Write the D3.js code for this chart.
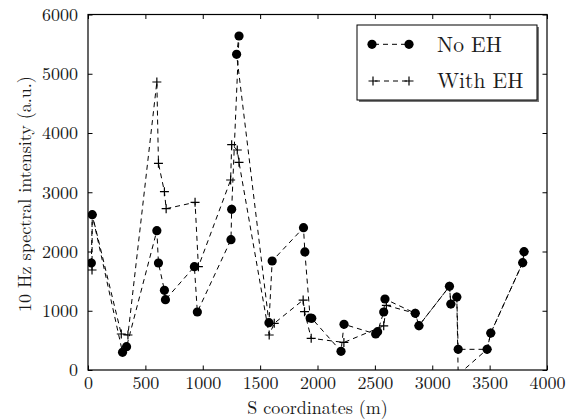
<!DOCTYPE html>
<html>
<head>
<meta charset="utf-8">
<script src="https://cdn.jsdelivr.net/npm/d3@7"></script>
<style>
  html, body { margin: 0; padding: 0; background: #fff; }
  svg { display: block; }
</style>
</head>
<body>
<svg id="chart" width="569" height="419"></svg>
<script>
// ---- Data ----
const noEH_s   = [29, 37, 301, 336, 600, 614, 666, 675, 927, 953, 1246, 1252, 1316, 1295, 1577, 1605, 1878, 1890, 1936, 1950, 2205, 2231, 2507, 2524, 2577, 2588, 2852, 2884, 3150, 3162, 3214, 3226, 3478, 3510, 3788, 3800];
const noEH_val = [1806, 2621, 298, 393, 2352, 1806, 1345, 1187, 1744, 979, 2200, 2712, 5637, 5328, 799, 1840, 2402, 1992, 878, 872, 315, 771, 608, 647, 979, 1198, 957, 748, 1412, 1114, 1232, 349, 349, 624, 1811, 1997];

const withEH_s   = [35, 37, 290, 348, 600, 614, 666, 681, 933, 962, 1243, 1252, 1301, 1316, 1579, 1623, 1875, 1887, 1945, 2230, 2577, 2600, 2852, 2884, 3150, 3162, 3214, 3226, 3478, 3510, 3788, 3800];
const withEH_val = [1688, 2621, 608, 591, 4861, 3488, 3009, 2723, 2830, 1744, 3207, 3803, 3713, 3505, 591, 788, 1181, 985, 535, 465, 745, 1090, 957, 748, 1412, 1114, 1232, -80, 349, 624, 1811, 1997];

const xTicks = [0, 500, 1000, 1500, 2000, 2500, 3000, 3500, 4000];
const yTicks = [0, 1000, 2000, 3000, 4000, 5000, 6000];
const seriesNames = ["No EH", "With EH"];
const xLabel = "S coordinates (m)";
const yLabel = "10 Hz spectral intensity (a.u.)";

const FONT = '"Latin Modern Roman", "Liberation Serif", serif';
const INK = "#1a1a1a";

// ---- Layout ----
const svg = d3.select("#chart");
const L = 88, R = 547, T = 14.5, B = 370;
const x = d3.scaleLinear().domain([0, 4000]).range([L, R]);
const y = d3.scaleLinear().domain([0, 6000]).range([B, T]);

svg.append("defs").append("clipPath").attr("id", "plotclip")
  .append("rect").attr("x", L).attr("y", T).attr("width", R - L).attr("height", B - T);

const noEH = noEH_s.map((s, i) => ({ s, v: noEH_val[i] }));
const withEH = withEH_s.map((s, i) => ({ s, v: withEH_val[i] }));

const line = d3.line().x(d => x(d.s)).y(d => y(d.v));
const plot = svg.append("g").attr("clip-path", "url(#plotclip)");

// lines
[withEH, noEH].forEach(data => {
  plot.append("path").datum(data)
    .attr("d", line)
    .attr("fill", "none")
    .attr("stroke", "#000")
    .attr("stroke-width", 1)
    .attr("stroke-dasharray", "5,4");
});

// plus markers
const P = 4.5;
plot.selectAll("path.plus").data(withEH.filter(d => d.v >= 0)).enter()
  .append("path").attr("class", "plus")
  .attr("d", d => `M${x(d.s) - P},${y(d.v)}H${x(d.s) + P}M${x(d.s)},${y(d.v) - P}V${y(d.v) + P}`)
  .attr("stroke", "#000").attr("stroke-width", 1.2).attr("fill", "none");

// circle markers
plot.selectAll("circle.dot").data(noEH).enter()
  .append("circle").attr("class", "dot")
  .attr("cx", d => x(d.s)).attr("cy", d => y(d.v)).attr("r", 4.6)
  .attr("fill", "#000");

// ---- Axes (box with inward ticks) ----
const axisG = svg.append("g");
axisG.append("rect").attr("x", L).attr("y", T).attr("width", R - L).attr("height", B - T)
  .attr("fill", "none").attr("stroke", "#000").attr("stroke-width", 1.2);

const tk = 4.5;
const bottomAxis = d3.axisBottom(x).tickValues(xTicks).tickSizeInner(-tk).tickSizeOuter(0).tickPadding(6).tickFormat(d3.format("d"));
const topAxis = d3.axisTop(x).tickValues(xTicks).tickSizeInner(-tk).tickSizeOuter(0).tickFormat("");
const leftAxis = d3.axisLeft(y).tickValues(yTicks).tickSizeInner(-tk).tickSizeOuter(0).tickPadding(10).tickFormat(d3.format("d"));
const rightAxis = d3.axisRight(y).tickValues(yTicks).tickSizeInner(-tk).tickSizeOuter(0).tickFormat("");

function styleAxis(g) {
  g.select(".domain").remove();
  g.selectAll(".tick line").attr("stroke", "#000").attr("stroke-width", 1);
  g.selectAll(".tick text").style("font-family", FONT).style("font-size", "18px").attr("fill", INK);
}
axisG.append("g").attr("transform", `translate(0,${B})`).call(bottomAxis).call(styleAxis);
axisG.append("g").attr("transform", `translate(0,${T})`).call(topAxis).call(styleAxis);
axisG.append("g").attr("transform", `translate(${L},0)`).call(leftAxis).call(styleAxis);
axisG.append("g").attr("transform", `translate(${R},0)`).call(rightAxis).call(styleAxis);

// axis labels
svg.append("text").attr("x", (L + R) / 2).attr("y", 414)
  .attr("text-anchor", "middle").style("font-family", FONT).style("font-size", "18px").attr("fill", INK)
  .text(xLabel);
svg.append("text").attr("transform", `translate(31,194) rotate(-90)`)
  .attr("text-anchor", "middle").style("font-family", FONT).style("font-size", "18px").attr("fill", INK)
  .text(yLabel);

// ---- Legend ----
const lg = svg.append("g");
const lx = 357, ly = 25, lw = 180, lh = 75;
lg.append("rect").attr("x", lx + 2).attr("y", ly + 2).attr("width", lw).attr("height", lh).attr("fill", "#777");
lg.append("rect").attr("x", lx).attr("y", ly).attr("width", lw).attr("height", lh)
  .attr("fill", "#fff").attr("stroke", "#000").attr("stroke-width", 1);

const rows = [44.3, 81];
lg.append("line").attr("x1", 372).attr("x2", 409).attr("y1", rows[0]).attr("y2", rows[0])
  .attr("stroke", "#000").attr("stroke-dasharray", "5,4").attr("stroke-dashoffset", -2);
[372, 409].forEach(cx => lg.append("circle").attr("cx", cx).attr("cy", rows[0]).attr("r", 4.6).attr("fill", "#000"));
lg.append("line").attr("x1", 373).attr("x2", 409).attr("y1", rows[1]).attr("y2", rows[1])
  .attr("stroke", "#000").attr("stroke-dasharray", "5,4").attr("stroke-dashoffset", -2);
[373, 409].forEach(cx => lg.append("path")
  .attr("d", `M${cx - P},${rows[1]}H${cx + P}M${cx},${rows[1] - P}V${rows[1] + P}`)
  .attr("stroke", "#000").attr("stroke-width", 1.2));

lg.append("text").attr("x", 437).attr("y", rows[0] + 8).style("font-family", FONT).style("font-size", "21.5px")
  .attr("fill", INK).text(seriesNames[0]);
lg.append("text").attr("x", 437).attr("y", rows[1] + 7).style("font-family", FONT).style("font-size", "21.5px")
  .attr("fill", INK).text(seriesNames[1]);
</script>
</body>
</html>
